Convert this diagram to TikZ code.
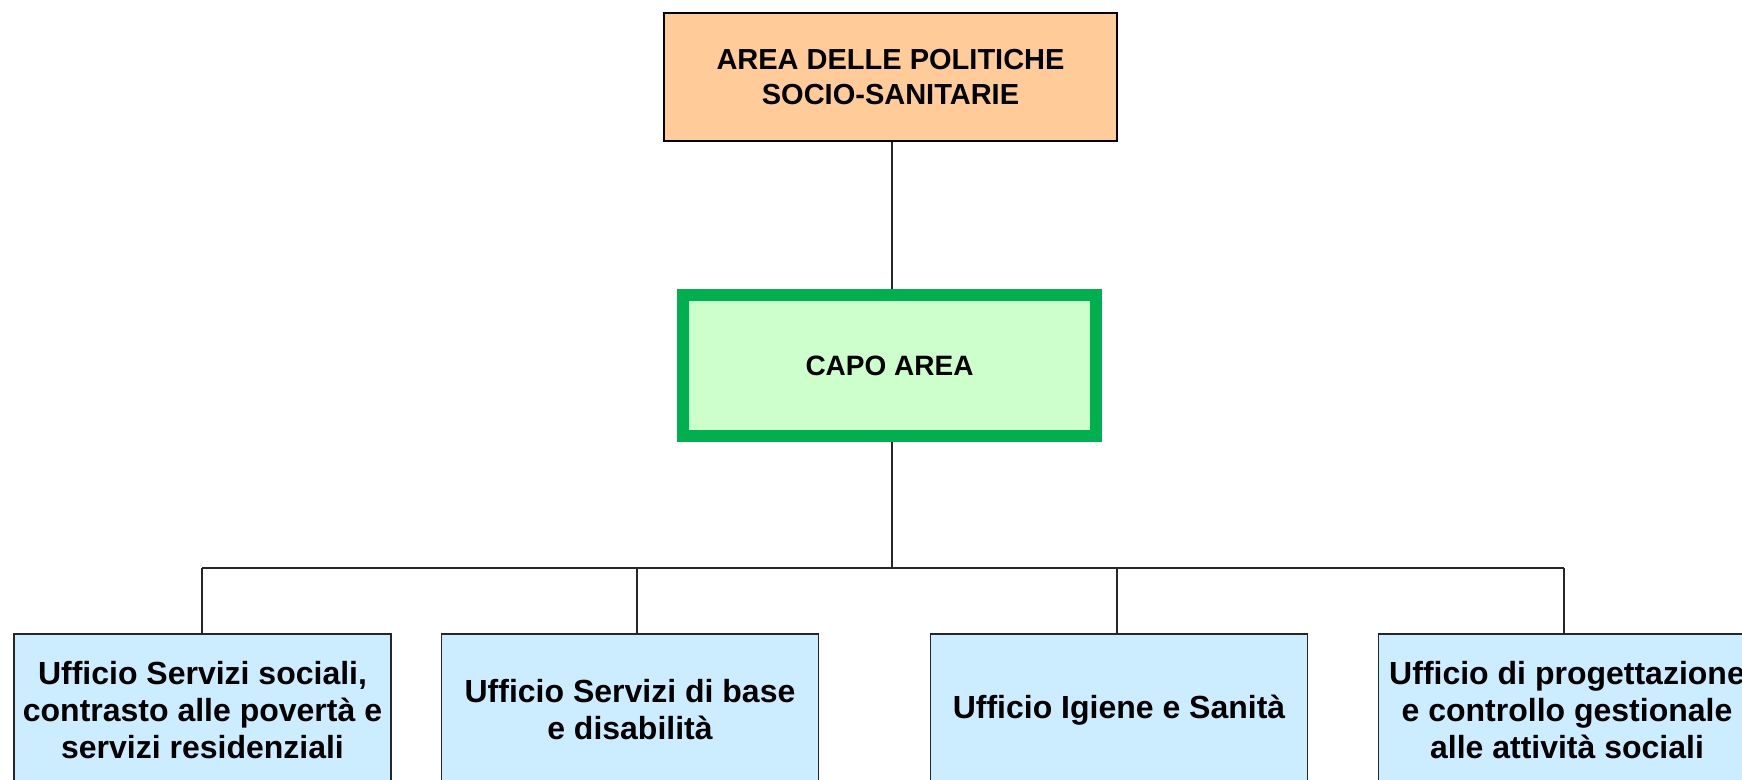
\documentclass[tikz,border=0pt]{standalone}
\usepackage{fontspec}
\setmainfont{Liberation Sans}
\definecolor{peach}{HTML}{FFCC99}
\definecolor{capogreen}{HTML}{00B050}
\definecolor{capofill}{HTML}{CCFFCC}
\definecolor{uffblue}{HTML}{CCECFF}
\begin{document}
\begin{tikzpicture}[x=1pt,y=-1pt,
  topbox/.style={draw,line width=2pt,fill=peach,minimum width=453pt,minimum height=128pt,align=center,font=\fontsize{29}{35}\selectfont\bfseries},
  capobox/.style={draw=capogreen,line width=12pt,fill=capofill,minimum width=413pt,minimum height=141pt,font=\fontsize{28}{34}\selectfont\bfseries},
  uffbox/.style={draw=black!85,line width=1.5pt,fill=uffblue,minimum width=377pt,minimum height=152pt,align=center,font=\fontsize{32}{37}\selectfont\bfseries},
  conn/.style={draw=black!85,line width=1.2pt}]
\useasboundingbox (0,0) rectangle (1742,779);
\node[topbox] (area) at (890.5,77) {AREA DELLE POLITICHE\\SOCIO-SANITARIE};
\node[capobox] (capo) at (889.5,365.5) {CAPO AREA};
\node[uffbox] (u1) at (202.5,710) {Ufficio Servizi sociali,\\contrasto alle povertà e\\servizi residenziali};
\node[uffbox] (u2) at (630,710) {Ufficio Servizi di base\\e disabilità};
\node[uffbox] (u3) at (1119,710) {Ufficio Igiene e Sanità};
\node[uffbox] (u4) at (1567,710) {Ufficio di progettazione\\e controllo gestionale\\alle attività sociali};
% bus line
\coordinate (bus) at (892,568);
\coordinate (b1) at (202,568);
\coordinate (b2) at (637,568);
\coordinate (b3) at (1117,568);
\coordinate (b4) at (1564,568);
\draw[conn] (area.south -| bus) -- (capo.north -| bus);
\draw[conn] (capo.south -| bus) -- (bus);
\draw[conn] (b1) -- (b4);
\draw[conn] (b1) -- (b1 |- u1.north);
\draw[conn] (b2) -- (b2 |- u2.north);
\draw[conn] (b3) -- (b3 |- u3.north);
\draw[conn] (b4) -- (b4 |- u4.north);
\end{tikzpicture}
\end{document}
